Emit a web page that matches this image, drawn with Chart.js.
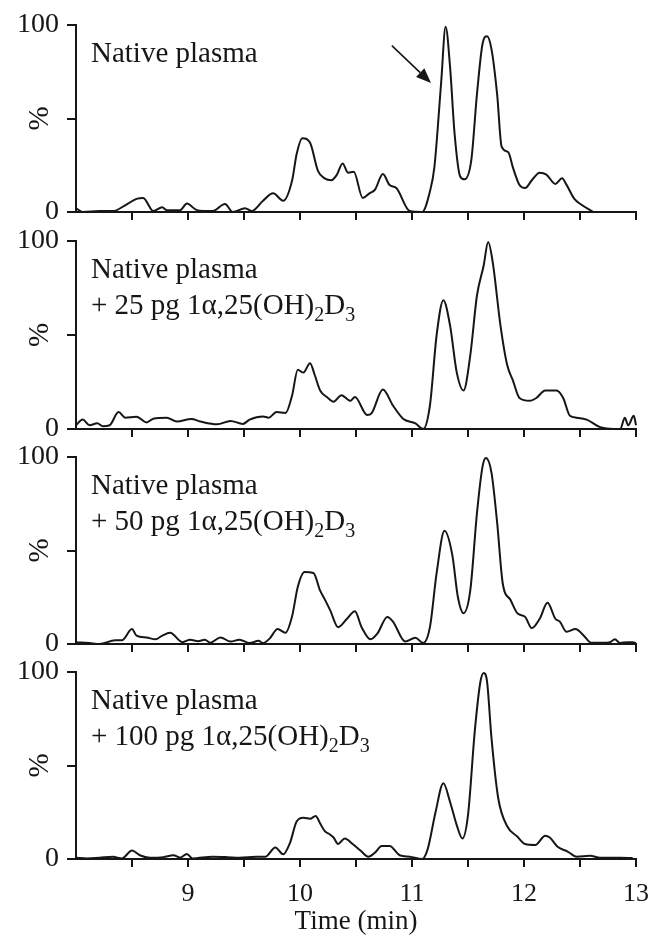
<!DOCTYPE html>
<html><head><meta charset="utf-8">
<script src="https://cdn.jsdelivr.net/npm/chart.js@4.4.1/dist/chart.umd.min.js"></script>
<style>
html,body{margin:0;padding:0;background:#fff;}
body{width:652px;height:941px;position:relative;overflow:hidden;}
canvas{position:absolute;left:0;}
</style></head><body>
<canvas id="c1"></canvas>
<canvas id="c2"></canvas>
<canvas id="c3"></canvas>
<canvas id="c4"></canvas>
<script>
// ---------- DATA ----------
const times1 = [8.00,8.06,8.21,8.33,8.45,8.54,8.60,8.69,8.77,8.81,8.93,8.99,9.08,9.22,9.33,9.40,9.51,9.57,9.67,9.76,9.85,9.93,9.97,10.02,10.09,10.16,10.22,10.28,10.33,10.38,10.43,10.48,10.56,10.62,10.67,10.74,10.80,10.86,10.98,11.09,11.16,11.20,11.26,11.30,11.34,11.38,11.43,11.47,11.53,11.58,11.63,11.67,11.71,11.76,11.80,11.86,11.90,11.96,12.01,12.07,12.14,12.20,12.28,12.34,12.38,12.45,12.51,12.62];
const values1 = [2,0,0.5,0.5,4,7,7.5,0.5,2.5,1,1,4.5,1,0.5,4.3,0,2,0.5,6,10,6,17,31,39.5,37,22,18,17,20,26,21,21.5,7.5,10,12,20.3,14.4,12.8,0.5,0,11,24,69,99,77.5,42,19,17.5,28,63,90,94,87,63,35,32,24,14.4,12.8,17,21,20,15,18,14.5,7,4,0];

const times2 = [8.00,8.06,8.12,8.19,8.24,8.30,8.38,8.44,8.54,8.63,8.69,8.81,8.90,9.03,9.11,9.26,9.38,9.49,9.55,9.67,9.72,9.79,9.87,9.93,9.98,10.03,10.09,10.13,10.18,10.24,10.30,10.37,10.45,10.49,10.60,10.64,10.74,10.83,10.92,11.03,11.10,11.16,11.22,11.28,11.34,11.40,11.46,11.52,11.58,11.64,11.68,11.72,11.79,11.85,11.90,11.96,12.05,12.11,12.19,12.29,12.35,12.41,12.47,12.56,12.68,12.80,12.86,12.90,12.93,12.98,13.00];
const values2 = [2,5,2,3,1.5,2,9,6,6.5,3.5,5.5,6,4,5.3,4,2.5,4.3,2.7,5,6.7,6,9,8.5,18,31.5,30,35,29,20.5,17,14.5,18,15,17,7.5,8.5,21,12.5,5.5,3,0,12.5,50,68.5,55,30,20.5,39,71,87,99.5,89,55,34,26,16.5,15,16.5,20.5,20.5,16.5,7,6,5,1,0,0,6,2,7,2];

const times3 = [8.00,8.12,8.21,8.35,8.41,8.50,8.54,8.63,8.71,8.77,8.84,8.95,9.02,9.09,9.15,9.20,9.29,9.38,9.46,9.55,9.63,9.67,9.73,9.80,9.87,9.93,9.98,10.04,10.12,10.18,10.22,10.27,10.34,10.42,10.49,10.55,10.63,10.69,10.78,10.83,10.94,11.03,11.10,11.16,11.22,11.29,11.36,11.41,11.46,11.52,11.58,11.63,11.66,11.71,11.76,11.81,11.88,11.94,12.01,12.07,12.14,12.21,12.28,12.32,12.38,12.46,12.53,12.60,12.70,12.77,12.81,12.86,12.92,12.97,13.00];
const values3 = [1,0.5,0,2,2,8,4.5,3.5,2.5,4.5,6,1,2.3,1.5,2.3,0.7,3.5,1.3,2.3,0.5,1.7,0.5,3,8,6,15,30.5,38.5,38,28.5,24,18,9,13.5,17.5,9,2.5,5.5,14.5,12,1.3,3.4,0.5,9,38,60.5,47.5,25,16.5,28.5,70,95,99.5,91.5,65,32.5,23.5,16.5,14.5,8.5,13.5,22,13.5,12,6.5,8,4.7,0.7,0.7,1,2.5,0.5,1,1,0.5];

const times4 = [8.00,8.10,8.21,8.33,8.41,8.50,8.57,8.66,8.78,8.87,8.93,8.99,9.04,9.22,9.35,9.46,9.61,9.69,9.78,9.85,9.91,9.97,10.03,10.09,10.14,10.18,10.22,10.27,10.30,10.34,10.40,10.47,10.54,10.61,10.67,10.73,10.80,10.89,10.98,11.09,11.14,11.21,11.28,11.34,11.40,11.45,11.50,11.56,11.61,11.64,11.67,11.71,11.77,11.85,11.94,12.01,12.10,12.19,12.23,12.30,12.39,12.47,12.59,12.68,12.86,12.97];
const values4 = [0.7,0.3,0.7,1.2,0.3,4.5,2,0.7,1,2,0.7,2.7,0.3,1.2,1,0.7,1.2,1.2,6.2,2.5,8.5,20,22,21.5,23,19,15,13,11.5,8,11,8,4.5,1.2,3.5,7,7,2,1.2,0,5.3,25,40.5,30.5,18,11,23.5,68,94.5,99.5,95,64.5,32.5,17.5,12,8,7.5,12.5,11.5,6.5,4,1.2,1.7,0.7,0.7,0.5];

const doses = [null, 25, 50, 100];           // pg 1α,25(OH)2D3 added
const xTickLabels = [9, 10, 11, 12, 13];
const yTickLabels = [0, 100];
const xTitle = 'Time (min)';
const yTitle = '%';
const arrowTail = {x: 10.82, y: 89};
const arrowHead = {x: 11.17, y: 69};

// ---------- LAYOUT ----------
const INK = '#161616';
const FONT = '"Liberation Serif", "Times New Roman", serif';
const panels = [
  {id:'c1', top:25,  bottom:212, t:times1, v:values1},
  {id:'c2', top:241, bottom:429, t:times2, v:values2},
  {id:'c3', top:457, bottom:644, t:times3, v:values3},
  {id:'c4', top:672, bottom:859, t:times4, v:values4}
];
const PAD_TOP = 24;

const labelPlugin = {
  id: 'panelLabel',
  afterDraw(chart, args, opts) {
    const ctx = chart.ctx, ca = chart.chartArea;
    ctx.save();
    ctx.fillStyle = INK;
    ctx.textBaseline = 'alphabetic';
    ctx.textAlign = 'left';
    const x0 = ca.left + 15;
    const b1 = ca.top + 37;
    ctx.font = '29px ' + FONT;
    ctx.fillText('Native plasma', x0, b1);
    if (opts.dose != null) {
      const b2 = b1 + 36;
      const segs = [['+ ' + opts.dose + ' pg 1α,25(OH)', false], ['2', true], ['D', false], ['3', true]];
      let x = x0;
      for (const [s, sub] of segs) {
        ctx.font = (sub ? '20px ' : '29px ') + FONT;
        ctx.fillText(s, x, b2 + (sub ? 7 : 0));
        x += ctx.measureText(s).width;
      }
    }
    if (opts.arrow) {
      const xs = chart.scales.x, ys = chart.scales.y;
      const x1 = xs.getPixelForValue(arrowTail.x), y1 = ys.getPixelForValue(arrowTail.y);
      const x2 = xs.getPixelForValue(arrowHead.x), y2 = ys.getPixelForValue(arrowHead.y);
      const ang = Math.atan2(y2 - y1, x2 - x1);
      const L = 15, W = 6;
      const bx = x2 - L * Math.cos(ang), by = y2 - L * Math.sin(ang);
      ctx.strokeStyle = INK; ctx.lineWidth = 1.6;
      ctx.beginPath(); ctx.moveTo(x1, y1); ctx.lineTo(bx, by); ctx.stroke();
      ctx.beginPath();
      ctx.moveTo(x2, y2);
      ctx.lineTo(bx + W * Math.sin(ang), by - W * Math.cos(ang));
      ctx.lineTo(bx - W * Math.sin(ang), by + W * Math.cos(ang));
      ctx.closePath(); ctx.fill();
    }
    ctx.restore();
  }
};

panels.forEach((p, i) => {
  const last = i === panels.length - 1;
  const xh = last ? 82 : 12;
  const cv = document.getElementById(p.id);
  const h = (p.bottom - p.top) + PAD_TOP + xh;
  cv.width = 652; cv.height = h;
  cv.style.width = '652px'; cv.style.height = h + 'px';
  cv.style.top = (p.top - PAD_TOP) + 'px';
  const data = p.t.map((t, k) => ({x: t, y: p.v[k]}));
  new Chart(cv, {
    type: 'line',
    data: {datasets: [{
      data, borderColor: INK, borderWidth: 2, pointRadius: 0,
      cubicInterpolationMode: 'monotone', fill: false, clip: false
    }]},
    options: {
      responsive: false, animation: false, devicePixelRatio: 1, events: [],
      layout: {padding: {top: PAD_TOP, left: 0, right: 16, bottom: 0}},
      plugins: {legend: {display: false}, tooltip: {enabled: false},
        panelLabel: {dose: doses[i], arrow: i === 0}},
      scales: {
        x: {
          type: 'linear', min: 8, max: 13,
          afterFit: s => { s.height = xh; s.paddingLeft = 0; s.paddingRight = 0; },
          border: {display: true, color: INK, width: 2},
          grid: {drawOnChartArea: false, drawTicks: true, tickLength: 8, lineWidth: 2,
            color: c => (c.tick && c.tick.value === 8) ? 'rgba(0,0,0,0)' : INK},
          ticks: {stepSize: 0.5, autoSkip: false, maxRotation: 0, color: INK, padding: 12,
            font: {family: FONT, size: 26},
            callback: v => (last && xTickLabels.includes(v)) ? String(v) : ''},
          title: {display: last, text: xTitle, color: INK,
            font: {family: FONT, size: 27, lineHeight: 1}, padding: {top: 0, bottom: 6}}
        },
        y: {
          min: 0, max: 100,
          afterFit: s => { s.width = 76; s.paddingTop = 0; s.paddingBottom = 0; },
          border: {display: true, color: INK, width: 2},
          grid: {drawOnChartArea: false, drawTicks: true, tickLength: 9, lineWidth: 2, color: INK},
          ticks: {stepSize: 50, color: INK, padding: 8,
            font: {family: FONT, size: 28},
            callback: v => yTickLabels.includes(v) ? String(v) : ''},
          title: {display: true, text: yTitle, color: INK,
            font: {family: FONT, size: 29, lineHeight: 1}, padding: {top: 26, bottom: 0}}
        }
      }
    },
    plugins: [labelPlugin]
  });
});
</script>
</body></html>
